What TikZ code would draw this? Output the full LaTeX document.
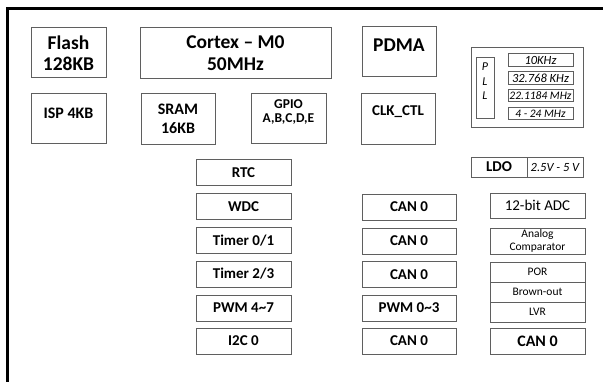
\documentclass[tikz,border=0pt]{standalone}
\usepackage{fontspec}
\setmainfont{Carlito}
\usetikzlibrary{positioning}
\definecolor{chipgray}{RGB}{95,95,95}

\begin{document}
\begin{tikzpicture}[
  x=1pt,y=-1pt,
  every node/.style={inner sep=0pt},
  blockbox/.style={draw=chipgray,line width=0.8pt,minimum width=#1},
  blockbox/.default=95pt,
  bigtxt/.style={font=\fontsize{19.5}{21.5}\selectfont\bfseries,align=center},
  midtxt/.style={font=\fontsize{16}{19}\selectfont\bfseries,align=center},
  smalltxt/.style={font=\fontsize{15}{17}\selectfont\bfseries},
  thintxt/.style={font=\fontsize{11.5}{13}\selectfont,align=center},
  freqtxt/.style={font=\fontsize{12.5}{14}\selectfont\itshape},
]
  \useasboundingbox (0,0) rectangle (603,382);
  % Chip outline
  \draw[line width=3pt,black] (7,400) -- (7,9) -- (620,9);

  % Top row
  \node[blockbox=75pt,minimum height=50pt] (flash) at (68.5,52) {};
  \node[bigtxt] (flashtxt) at (68.5,53) {Flash\\128KB};
  \node[blockbox=191pt,minimum height=51pt] (cortex) at (235.5,52.5) {};
  \node[bigtxt] (cortextxt) at (235.5,53) {Cortex -- M0\\50MHz};
  \node[blockbox=74pt,minimum height=50pt] (pdma) at (399,51) {};
  \node[bigtxt] (pdmatxt) at (399,45) {PDMA};

  % Second row
  \node[blockbox=75pt,minimum height=50pt] (isp) at (68.5,118) {};
  \node[midtxt] (isptxt) at (68.5,113) {ISP 4KB};
  \node[blockbox=74pt,minimum height=51pt] (sram) at (178,118.5) {};
  \node[midtxt] (sramtxt) at (178,119) {SRAM\\16KB};
  \node[blockbox=75pt,minimum height=50pt] (gpio) at (288.5,118) {};
  \node[font=\fontsize{13.5}{14.5}\selectfont\bfseries,align=center] (gpiotxt) at (288.5,112) {GPIO\\A,B,C,D,E};
  \node[blockbox=74pt,minimum height=51pt] (clk) at (398,118.5) {};
  \node[font=\fontsize{15}{17}\selectfont\bfseries] (clktxt) at (398,112) {CLK\_CTL};

  % PLL
  \node[blockbox=112pt,minimum height=80pt] (pll) at (527,87) {};
  \node[blockbox=18pt,minimum height=61pt] (pllbar) at (485,87.5) {};
  \node[align=center,font=\fontsize{12}{14.5}\selectfont\itshape] (plltxt) at (485,81.5) {P\\L\\L};
  \node[blockbox=65pt,minimum height=12.5pt,freqtxt] (f1) at (540.5,60) {10KHz};
  \node[blockbox=65pt,minimum height=12.5pt,freqtxt] (f2) at (540.5,78) {32.768 KHz};
  \node[blockbox=65pt,minimum height=12.5pt,font=\fontsize{11.5}{13}\selectfont\itshape] (f3) at (540.5,95.5) {22.1184 MHz};
  \node[blockbox=65pt,minimum height=12.5pt,font=\fontsize{11.5}{13}\selectfont\itshape] (f4) at (540.5,113.5) {4 - 24 MHz};

  % LDO
  \node[blockbox=56pt,minimum height=20pt,smalltxt] (ldo) at (499,167) {LDO};
  \node[blockbox=56pt,minimum height=20pt,freqtxt] (ldov) at (555,167) {2.5V - 5 V};

  % Left peripherals
  \node[blockbox,minimum height=26pt,smalltxt] (rtc) at (243.5,172.5) {RTC};
  \node[blockbox,minimum height=26pt,smalltxt] (wdc) at (243.5,206.5) {WDC};
  \node[blockbox,minimum height=26pt,smalltxt] (tmra) at (243.5,240.5) {Timer 0/1};
  \node[blockbox,minimum height=26pt,smalltxt] (tmrb) at (243.5,274) {Timer 2/3};
  \node[blockbox,minimum height=26pt,smalltxt] (pwma) at (243.5,308) {PWM 4\textasciitilde7};
  \node[blockbox,minimum height=26pt,smalltxt] (iic) at (243.5,341) {I2C 0};

  % Middle peripherals
  \node[blockbox=94pt,minimum height=26pt,smalltxt] (cana) at (409,207) {CAN 0};
  \node[blockbox=94pt,minimum height=26pt,smalltxt] (canb) at (409,241) {CAN 0};
  \node[blockbox=94pt,minimum height=26pt,smalltxt] (canc) at (409,274.5) {CAN 0};
  \node[blockbox=94pt,minimum height=26pt,smalltxt] (pwmb) at (409,308) {PWM 0\textasciitilde3};
  \node[blockbox=94pt,minimum height=26pt,smalltxt] (cand) at (409,341) {CAN 0};

  % Right analog blocks
  \node[blockbox,minimum height=25pt,font=\fontsize{15}{17}\selectfont] (adc) at (537.5,205.5) {12-bit ADC};
  \node[blockbox,minimum height=26pt,thintxt] (acmp) at (537.5,241) {Analog\\Comparator};
  \node[blockbox,minimum height=20pt,thintxt] (por) at (537.5,272) {POR};
  \node[blockbox,minimum height=20pt,thintxt] (bod) at (537.5,292) {Brown-out};
  \node[blockbox,minimum height=20pt,thintxt] (lvr) at (537.5,312) {LVR};
  \node[blockbox,minimum height=26pt,midtxt] (cane) at (537.5,341) {CAN 0};
\end{tikzpicture}
\end{document}
